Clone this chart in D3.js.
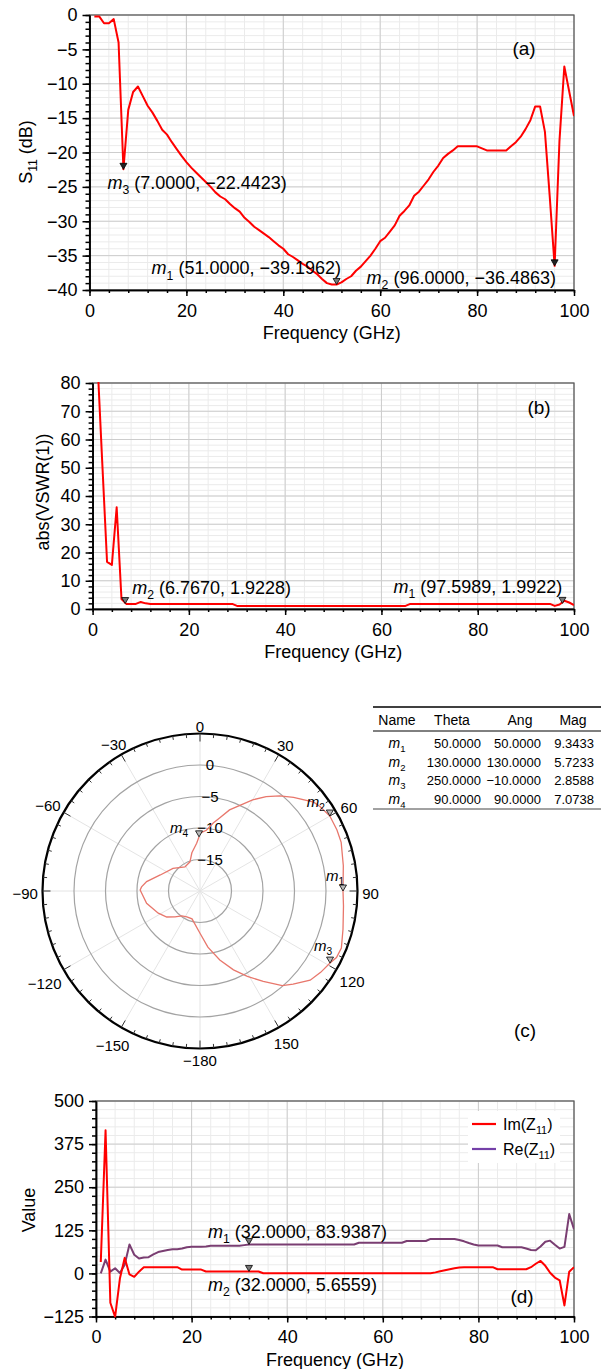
<!doctype html>
<html lang="en">
<head>
<meta charset="UTF-8">
<title>Antenna results</title>
<style>
  body { margin: 0; background: #fff; }
  svg { display: block; font-family: "Liberation Sans", Arial, sans-serif; }
  .grid-major { stroke: #cdcdcd; stroke-width: 1; }
  .grid-minor { stroke: #ebebeb; stroke-width: 1; }
  .axis path, .axis line { stroke: #000; stroke-width: 1.5; }
  .axis text { fill: #000; }
</style>
</head>
<body>
<svg width="606" height="1369"></svg>
<script src="https://cdn.jsdelivr.net/npm/d3@7"></script>
<script>
// frequency sweep (GHz)
var freq = [1,2,3,4,5,6,7,8,9,10,11,12,13,14,15,16,17,18,19,20,
  21,22,23,24,25,26,27,28,29,30,31,32,33,34,35,36,37,38,39,40,
  41,42,43,44,45,46,47,48,49,50,51,52,53,54,55,56,57,58,59,60,
  61,62,63,64,65,66,67,68,69,70,71,72,73,74,75,76,77,78,79,80,
  81,82,83,84,85,86,87,88,89,90,91,92,93,94,95,96,97,98,99,100];

// (a) S11 in dB
var s11 = [-0.2,-0.2,-1.2,-1.2,-0.6,-4.0,-22.44,-13.8,-11.2,-10.4,
  -11.8,-13.2,-14.2,-15.4,-16.7,-17.4,-18.5,-19.5,-20.5,-21.4,
  -22.2,-22.9,-23.6,-24.3,-25.0,-25.8,-26.4,-26.8,-27.5,-28.1,
  -28.6,-29.5,-30.1,-30.8,-31.3,-31.8,-32.3,-32.9,-33.5,-34.0,
  -34.8,-35.2,-35.7,-36.2,-36.6,-37.2,-37.7,-38.4,-39.0,-39.2,
  -39.2,-38.9,-38.4,-38.0,-37.2,-36.6,-35.8,-35.0,-34.0,-32.9,
  -32.4,-31.5,-30.6,-29.2,-28.5,-27.7,-26.3,-25.7,-24.8,-23.9,
  -22.8,-21.9,-20.8,-20.2,-19.7,-19.1,-19.1,-19.1,-19.1,-19.1,
  -19.4,-19.7,-19.7,-19.7,-19.7,-19.7,-19.1,-18.5,-17.7,-16.6,
  -15.3,-13.3,-13.3,-17.0,-26.5,-36.49,-18.3,-7.5,-11.1,-14.7];

// (b) abs(VSWR)
var vswr = [88,52,16.7,15.6,36,3.5,1.8,1.8,1.8,2.5,
  2.0,1.8,1.8,1.8,1.8,1.8,1.8,1.8,1.8,1.8,
  1.8,1.8,1.8,1.8,1.8,1.8,1.8,1.8,1.8,1.1,
  1.1,1.1,1.1,1.1,1.1,1.1,1.1,1.1,1.1,1.1,
  1.1,1.1,1.1,1.1,1.1,1.1,1.1,1.1,1.1,1.1,
  1.1,1.1,1.1,1.1,1.1,1.1,1.1,1.1,1.1,1.1,
  1.1,1.1,1.1,1.1,1.1,1.8,1.8,1.8,1.8,1.8,
  1.8,1.8,1.8,1.8,1.8,1.8,1.8,1.8,1.8,1.8,
  1.8,1.8,1.8,1.8,1.8,1.8,1.8,1.8,1.8,1.8,
  1.8,1.8,1.8,1.8,1.8,1.1,1.6,2.9,2.3,1.4];

// (d) impedance
var imZ = [33,415,-85,-126,-15,45,-3,-10,5,18,
  18,18,18,18,18,18,18,11,11,11,
  11,11,5.66,5.66,5.66,5.66,5.66,5.66,5.66,5.66,
  5.66,5.66,5.66,5.66,0.5,0.5,0.5,0.5,0.5,0.5,
  0.5,0.5,0.5,0.5,0.5,0.5,0.5,0.5,0.5,0.5,
  0.5,0.5,0.5,0.5,0.5,0.5,0.5,0.5,0.5,0.5,
  0.5,0.5,0.5,0.5,0.5,0.5,0.5,0.5,0.5,0.5,
  3,6,9,12,15,17,18,18,18,18,
  18,18,18,12,12,12,12,12,12,12,
  18,28,36,22,2,-12,-20,-93,5,18];
var reZ = [0,40,5,15,1,25,84,54,43,46,
  47,55,62,65,68,70,70,72,76,77,
  77,77,78,80,80,80,80,80,80,80,
  82,83.94,84,84,84,84,84,84,84,84,
  84,84,84,84,84,84,84,84,84,84,
  84,84,84,84,89,89,89,89,89,89,
  89,89,89,89,94,94,94,94,94,100,
  100,100,100,100,100,97,93,88,84,81,
  81,81,81,81,76,76,76,76,76,72,
  68,67,78,92,95,83,72,77,172,128];

// (c) polar trace: angle (deg, clockwise from top) and magnitude (dB)
var polarAng = [-1,-4,-12,-19,-32,-50,-68,-80,-86,-89,-103,-118,-128,-136,-144,-153,-164,
  180,172,164,157,151,145,139,135,129,124,119,116,112,105,96,90,80,71,66,60,55,52,45,40,35,30,25,20,15,11,6,0];
var polarMag = [-11.4,-12.4,-13.8,-15.1,-15.5,-14.4,-13.2,-11.4,-10.7,-10.5,-11.3,-12.5,-13.3,-14.3,-15.1,-15.4,-15.4,
  -13.3,-11.0,-8.6,-6.4,-4.5,-2.5,-0.1,0.9,2.5,3.1,3.6,4.1,4.2,3.5,2.9,2.7,3.1,3.7,3.8,3.8,3.3,2.9,1.0,-0.3,-1.7,-3.3,-5.0,-6.3,-8.0,-9.0,-10.3,-10.8];
var polarMarkIdx = [32, 36, 27, 0];   // m1..m4 on the trace

// marker table
var tabNames = ['1', '2', '3', '4'];
var tabTheta = [50, 130, 250, 90];
var tabAng = [50, 130, -10, 90];
var tabMag = [9.3433, 5.7233, 2.8588, 7.0738];

var xTicks = [0, 20, 40, 60, 80, 100];
var polarRings = [-15, -10, -5, 0];

var svg = d3.select('svg');
svg.append('rect').attr('width', 606).attr('height', 1369).attr('fill', '#fff');

function minus(s) { return String(s).replace(/-/g, '\u2212'); }

// text with an italic/normal main part, a subscript and a tail
function subText(g, x, y, main, sub, rest, size, italic) {
    var t = g.append('text').attr('x', x).attr('y', y).attr('font-size', size).attr('fill', '#000');
    t.append('tspan').text(main).attr('font-style', italic ? 'italic' : null);
    t.append('tspan').text(sub).attr('font-size', size * 0.68).attr('dy', size * 0.28);
    t.append('tspan').text(rest).attr('dy', -size * 0.28);
    return t;
}

function triangle(g, px, py, fill) {
    g.append('path')
        .attr('d', 'M' + px + ',' + py + 'l-3.5,-6h7z')
        .attr('fill', fill || '#777')
        .attr('stroke', '#000')
        .attr('stroke-width', 0.8);
}

function panel(c) {
    var x = d3.scaleLinear().domain([0, 100]).range([c.x0, c.x1]);
    var y = d3.scaleLinear().domain(c.yDom).range([c.y1, c.y0]);
    var g = svg.append('g');

    g.append('g').selectAll('line')
        .data(d3.range(c.yDom[0], c.yDom[1] + 1e-9, c.yMinor))
        .enter().append('line')
        .attr('class', 'grid-minor')
        .attr('x1', c.x0).attr('x2', c.x1)
        .attr('y1', function(d) { return y(d); }).attr('y2', function(d) { return y(d); });
    g.append('g').selectAll('line')
        .data(d3.range(0, 101, 4))
        .enter().append('line')
        .attr('class', 'grid-minor')
        .attr('y1', c.y0).attr('y2', c.y1)
        .attr('x1', function(d) { return x(d); }).attr('x2', function(d) { return x(d); });
    g.append('g').selectAll('line')
        .data(c.yTicks)
        .enter().append('line')
        .attr('class', 'grid-major')
        .attr('x1', c.x0).attr('x2', c.x1)
        .attr('y1', function(d) { return y(d); }).attr('y2', function(d) { return y(d); });
    g.append('g').selectAll('line')
        .data(xTicks)
        .enter().append('line')
        .attr('class', 'grid-major')
        .attr('y1', c.y0).attr('y2', c.y1)
        .attr('x1', function(d) { return x(d); }).attr('x2', function(d) { return x(d); });

    g.append('rect')
        .attr('x', c.x0).attr('y', c.y0)
        .attr('width', c.x1 - c.x0).attr('height', c.y1 - c.y0)
        .attr('fill', 'none').attr('stroke', '#555').attr('stroke-width', 1.2);

    // axes
    g.append('g').attr('class', 'axis').attr('transform', 'translate(0,' + c.y1 + ')')
        .call(d3.axisBottom(x).tickValues(d3.range(0, 101, 4)).tickSize(3).tickSizeOuter(0).tickFormat(''));
    g.append('g').attr('class', 'axis').attr('transform', 'translate(0,' + c.y1 + ')')
        .call(d3.axisBottom(x).tickValues(xTicks).tickSize(6).tickSizeOuter(0).tickPadding(8))
        .attr('font-size', 18).attr('font-family', null);
    g.append('g').attr('class', 'axis').attr('transform', 'translate(' + c.x0 + ',0)')
        .call(d3.axisLeft(y).tickValues(d3.range(c.yDom[0], c.yDom[1] + 1e-9, c.yMinor)).tickSize(4).tickSizeOuter(0).tickFormat(''));
    g.append('g').attr('class', 'axis').attr('transform', 'translate(' + c.x0 + ',0)')
        .call(d3.axisLeft(y).tickValues(c.yTicks).tickSize(7).tickSizeOuter(0).tickPadding(5))
        .attr('font-size', 18).attr('font-family', null);

    g.append('text')
        .attr('x', (c.x0 + c.x1) / 2).attr('y', c.y1 + 49)
        .attr('text-anchor', 'middle').attr('font-size', 18)
        .text('Frequency (GHz)');

    g.append('clipPath').attr('id', c.id)
        .append('rect').attr('x', c.x0).attr('y', c.y0 - 1)
        .attr('width', c.x1 - c.x0).attr('height', c.y1 - c.y0 + 2);

    g.append('text')
        .attr('x', c.tagX).attr('y', c.tagY)
        .attr('text-anchor', 'middle').attr('font-size', 19)
        .text(c.tag);

    return { x: x, y: y, g: g };
}

function drawLine(p, id, vals, color, w) {
    p.g.append('path')
        .datum(d3.zip(freq, vals))
        .attr('clip-path', 'url(#' + id + ')')
        .attr('fill', 'none')
        .attr('stroke', color)
        .attr('stroke-width', w)
        .attr('stroke-linejoin', 'round')
        .attr('d', d3.line()
            .x(function(d) { return p.x(d[0]); })
            .y(function(d) { return p.y(d[1]); }));
}

function mark(p, fx, fy, num, txt, dx, dy, fill) {
    var px = p.x(fx), py = p.y(fy);
    triangle(p.g, px, py, fill);
    subText(p.g, px + dx, py + dy, 'm', num, ' ' + txt, 18, true);
}

// ---------- (a) S11 ----------
var pa = panel({ id: 'clipA', x0: 89.5, x1: 574, y0: 15, y1: 290, yDom: [-40, 0], yMinor: 1,
    yTicks: [-40, -35, -30, -25, -20, -15, -10, -5, 0], tag: '(a)', tagX: 524, tagY: 55 });
drawLine(pa, 'clipA', s11, '#ff0000', 2);
mark(pa, 7, -22.4423, '3', minus('(7.0000, -22.4423)'), -16, 20, '#222');
mark(pa, 51, -39.1962, '1', minus('(51.0000, -39.1962)'), -185, -10);
mark(pa, 96, -36.4863, '2', minus('(96.0000, -36.4863)'), -188, 18, '#222');
var la = svg.append('g').attr('transform', 'translate(32,152) rotate(-90)');
subText(la, 0, 0, 'S', '11', ' (dB)', 18, false).attr('text-anchor', 'middle');

// ---------- (b) VSWR ----------
var pb = panel({ id: 'clipB', x0: 92.6, x1: 574, y0: 383, y1: 609, yDom: [0, 80], yMinor: 2,
    yTicks: [0, 10, 20, 30, 40, 50, 60, 70, 80], tag: '(b)', tagX: 539, tagY: 414 });
drawLine(pb, 'clipB', vswr, '#ff0000', 2);
mark(pb, 6.767, 1.9228, '2', '(6.7670, 1.9228)', 7, -10);
mark(pb, 97.5989, 1.9922, '1', '(97.5989, 1.9922)', -169, -10);
svg.append('text')
    .attr('transform', 'translate(49,492) rotate(-90)')
    .attr('text-anchor', 'middle').attr('font-size', 18)
    .text('abs(VSWR(1))');

// ---------- (c) polar ----------
var rScale = d3.scaleLinear().domain([-20, 5]).range([0, 157.5]);
var rad = Math.PI / 180;
var pg = svg.append('g').attr('transform', 'translate(200,891)');
pg.selectAll('.spoke')
    .data(d3.range(0, 360, 30))
    .enter().append('line')
    .attr('x1', 0).attr('y1', 0)
    .attr('x2', function(d) { return rScale(5) * Math.sin(d * rad); })
    .attr('y2', function(d) { return -rScale(5) * Math.cos(d * rad); })
    .attr('stroke', '#e4e4e4');
pg.selectAll('.ring')
    .data(polarRings)
    .enter().append('circle')
    .attr('r', function(d) { return rScale(d); })
    .attr('fill', 'none').attr('stroke', '#a3a3a3').attr('stroke-width', 1.2);
pg.append('circle').attr('r', rScale(5)).attr('fill', 'none').attr('stroke', '#000').attr('stroke-width', 2.2);
pg.selectAll('.ptick')
    .data(d3.range(0, 360, 5))
    .enter().append('line')
    .attr('x1', function(d) { return rScale(5) * Math.sin(d * rad); })
    .attr('y1', function(d) { return -rScale(5) * Math.cos(d * rad); })
    .attr('x2', function(d) { var l = d % 30 === 0 ? 8 : 4; return (rScale(5) - l) * Math.sin(d * rad); })
    .attr('y2', function(d) { var l = d % 30 === 0 ? 8 : 4; return -(rScale(5) - l) * Math.cos(d * rad); })
    .attr('stroke', '#333').attr('stroke-width', 1);
pg.selectAll('.alab')
    .data(d3.range(0, 360, 30))
    .enter().append('text')
    .attr('font-size', 15)
    .attr('text-anchor', 'middle')
    .attr('dy', '0.35em')
    .each(function(d) {
        var lab = d > 150 ? d - 360 : d;
        var s = minus(lab);
        var hw = s.length * 4.3;
        var r = 162 + hw * Math.abs(Math.sin(d * rad)) + 5 * Math.abs(Math.cos(d * rad));
        d3.select(this).text(s)
            .attr('x', r * Math.sin(d * rad))
            .attr('y', -r * Math.cos(d * rad) + 3);
    });
pg.selectAll('.rlab')
    .data(polarRings)
    .enter().append('text')
    .attr('x', 10).attr('y', function(d) { return -rScale(d); })
    .attr('dy', '0.35em').attr('text-anchor', 'middle').attr('font-size', 15)
    .text(function(d) { return minus(d); });
var polarPts = d3.zip(polarAng, polarMag);
pg.append('path')
    .datum(polarPts)
    .attr('fill', 'none').attr('stroke', '#e8776c').attr('stroke-width', 1.3)
    .attr('d', d3.lineRadial()
        .angle(function(d) { return d[0] * rad; })
        .radius(function(d) { return rScale(d[1]); }));
var polarLabOff = [[-8, -10], [-14, -9], [-7, -12], [-20, -4]];
polarMarkIdx.forEach(function(idx, i) {
    var p = polarPts[idx];
    var px = rScale(p[1]) * Math.sin(p[0] * rad), py = -rScale(p[1]) * Math.cos(p[0] * rad);
    triangle(pg, px, py, '#bbb');
    subText(pg, px + polarLabOff[i][0], py + polarLabOff[i][1], 'm', tabNames[i], '', 15, true)
        .attr('text-anchor', 'middle');
});
svg.append('text').attr('x', 525).attr('y', 1037).attr('text-anchor', 'middle').attr('font-size', 19).text('(c)');

// marker table
var tb = svg.append('g').attr('font-size', 13);
tb.append('line').attr('x1', 373).attr('x2', 601).attr('y1', 707).attr('y2', 707).attr('stroke', '#000').attr('stroke-width', 1.6);
tb.append('line').attr('x1', 373).attr('x2', 601).attr('y1', 731).attr('y2', 731).attr('stroke', '#000').attr('stroke-width', 1);
tb.append('line').attr('x1', 373).attr('x2', 601).attr('y1', 809).attr('y2', 809).attr('stroke', '#444').attr('stroke-width', 1);
[['Name', 397], ['Theta', 452], ['Ang', 520], ['Mag', 573]].forEach(function(h) {
    tb.append('text').attr('x', h[1]).attr('y', 725).attr('text-anchor', 'middle').attr('font-size', 14).text(h[0]);
});
tabNames.forEach(function(n, i) {
    var yy = 748 + i * 18.7;
    subText(tb, 397, yy, 'm', n, '', 14, true).attr('text-anchor', 'middle');
    tb.append('text').attr('x', 481).attr('y', yy).attr('text-anchor', 'end').text(tabTheta[i].toFixed(4));
    tb.append('text').attr('x', 541).attr('y', yy).attr('text-anchor', 'end').text(minus(tabAng[i].toFixed(4)));
    tb.append('text').attr('x', 594).attr('y', yy).attr('text-anchor', 'end').text(tabMag[i].toFixed(4));
});

// ---------- (d) Z11 ----------
var pd = panel({ id: 'clipD', x0: 96, x1: 574, y0: 1101, y1: 1316.5, yDom: [-125, 500], yMinor: 25,
    yTicks: [-125, 0, 125, 250, 375, 500], tag: '(d)', tagX: 522, tagY: 1303 });
drawLine(pd, 'clipD', reZ, '#7a3e72', 2);
drawLine(pd, 'clipD', imZ, '#ff0000', 2);
mark(pd, 32, 83.9387, '1', '(32.0000, 83.9387)', -41, -6);
mark(pd, 32, 5.6559, '2', '(32.0000, 5.6559)', -41, 20);
svg.append('text')
    .attr('transform', 'translate(35,1210) rotate(-90)')
    .attr('text-anchor', 'middle').attr('font-size', 18)
    .text('Value');

var lg = svg.append('g');
lg.append('rect').attr('x', 468).attr('y', 1111).attr('width', 92).attr('height', 52).attr('fill', '#fff');
[['Im', '#ff0000', 1124], ['Re', '#7440a8', 1149]].forEach(function(s) {
    lg.append('line').attr('x1', 472).attr('x2', 496).attr('y1', s[2]).attr('y2', s[2])
        .attr('stroke', s[1]).attr('stroke-width', 2.2);
    subText(lg, 503, s[2] + 6, s[0] + '(Z', '11', ')', 16, false);
});
</script>
</body>
</html>
